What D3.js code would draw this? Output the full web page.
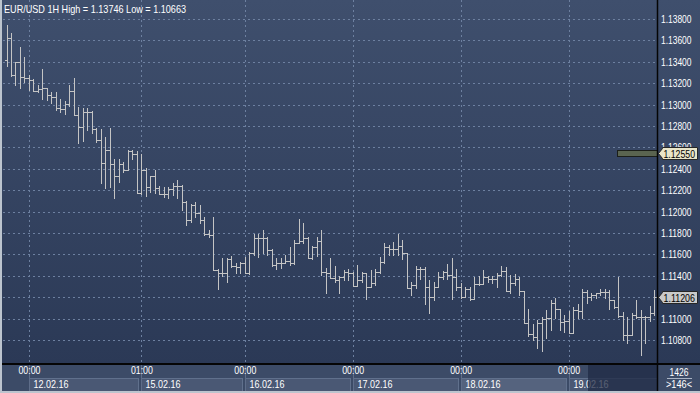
<!DOCTYPE html>
<html>
<head>
<meta charset="utf-8">
<script src="https://cdn.jsdelivr.net/npm/d3@7"></script>
<style>
  html, body { margin: 0; padding: 0; background: #2c3a56; overflow: hidden; }
  svg { display: block; font-family: "Liberation Sans", Arial, sans-serif; }
</style>
</head>
<body>
<div id="chart"></div>
<script>
// EUR/USD hourly bars, 11.02.16 19:00 .. 19.02.16
const openP = [1.13417,1.13622,1.13276,1.13398,1.13258,1.13248,1.13230,1.13127,1.13146,1.13155,
  1.13089,1.13071,1.12968,1.12959,1.13005,1.13127,1.12902,1.12790,1.12930,1.12930,
  1.12772,1.12669,1.12454,1.12575,1.12444,1.12332,1.12444,1.12388,1.12566,1.12538,
  1.12173,1.12388,1.12229,1.12332,1.12220,1.12164,1.12164,1.12211,1.12239,1.12239,
  1.12089,1.11921,1.12061,1.11986,1.11921,1.11790,1.11780,1.11453,1.11425,1.11425,
  1.11556,1.11491,1.11481,1.11519,1.11425,1.11612,1.11752,1.11752,1.11752,1.11640,
  1.11500,1.11519,1.11519,1.11537,1.11519,1.11706,1.11724,1.11752,1.11565,1.11668,
  1.11724,1.11434,1.11425,1.11378,1.11359,1.11387,1.11434,1.11425,1.11303,1.11359,
  1.11425,1.11294,1.11331,1.11434,1.11528,1.11668,1.11650,1.11650,1.11678,1.11612,
  1.11284,1.11312,1.11463,1.11463,1.11294,1.11200,1.11294,1.11387,1.11434,1.11406,
  1.11387,1.11294,1.11200,1.11275,1.11182,1.11322,1.11322,1.11387,1.11369,1.11369,
  1.11406,1.11444,1.11257,1.11331,1.11369,1.11257,1.10958,1.10855,1.10827,1.10958,
  1.10995,1.11004,1.11145,1.11089,1.10967,1.10976,1.10864,1.11079,1.11070,1.11247,
  1.11200,1.11219,1.11238,1.11247,1.11247,1.11172,1.11107,1.11023,1.10845,1.10845,
  1.11032,1.11014,1.11014,1.11014,1.11051];
const highP = [1.13746,1.13669,1.13398,1.13538,1.13445,1.13276,1.13239,1.13183,1.13333,1.13155,
  1.13117,1.13117,1.13052,1.13033,1.13183,1.13248,1.12977,1.12968,1.12968,1.12940,
  1.12781,1.12772,1.12697,1.12781,1.12491,1.12491,1.12463,1.12575,1.12575,1.12566,
  1.12538,1.12407,1.12332,1.12388,1.12239,1.12229,1.12229,1.12267,1.12295,1.12248,
  1.12098,1.12070,1.12089,1.12061,1.11949,1.11827,1.11949,1.11463,1.11565,1.11565,
  1.11584,1.11519,1.11528,1.11575,1.11621,1.11790,1.11790,1.11827,1.11762,1.11650,
  1.11565,1.11565,1.11593,1.11668,1.11734,1.11930,1.11893,1.11762,1.11678,1.11762,
  1.11827,1.11472,1.11565,1.11491,1.11397,1.11453,1.11463,1.11434,1.11500,1.11434,
  1.11425,1.11453,1.11463,1.11575,1.11706,1.11687,1.11715,1.11790,1.11734,1.11612,
  1.11341,1.11491,1.11481,1.11481,1.11359,1.11341,1.11434,1.11444,1.11509,1.11565,
  1.11463,1.11331,1.11294,1.11294,1.11387,1.11397,1.11453,1.11397,1.11397,1.11425,
  1.11491,1.11481,1.11406,1.11416,1.11387,1.11257,1.11089,1.10948,1.10986,1.11014,
  1.11079,1.11172,1.11191,1.11089,1.11032,1.11070,1.11107,1.11135,1.11275,1.11266,
  1.11238,1.11238,1.11275,1.11275,1.11266,1.11172,1.11387,1.11061,1.11014,1.11051,
  1.11172,1.11079,1.11023,1.11117,1.11266];
const lowP = [1.13361,1.13267,1.13183,1.13155,1.13211,1.13136,1.13127,1.13117,1.13052,1.13043,
  1.13015,1.12949,1.12930,1.12912,1.12987,1.12902,1.12641,1.12659,1.12762,1.12734,
  1.12650,1.12267,1.12220,1.12229,1.12126,1.12276,1.12369,1.12388,1.12491,1.12173,
  1.12164,1.12145,1.12182,1.12173,1.12164,1.12136,1.12126,1.12154,1.12126,1.12014,
  1.11874,1.11902,1.11949,1.11893,1.11780,1.11762,1.11453,1.11275,1.11397,1.11341,
  1.11481,1.11425,1.11425,1.11425,1.11416,1.11593,1.11575,1.11612,1.11593,1.11491,
  1.11463,1.11472,1.11519,1.11500,1.11509,1.11706,1.11706,1.11565,1.11556,1.11584,
  1.11406,1.11238,1.11378,1.11341,1.11238,1.11359,1.11359,1.11303,1.11303,1.11341,
  1.11182,1.11294,1.11312,1.11425,1.11519,1.11593,1.11593,1.11593,1.11556,1.11284,
  1.11219,1.11284,1.11369,1.11135,1.11051,1.11172,1.11294,1.11369,1.11369,1.11182,
  1.11266,1.11191,1.11200,1.11172,1.11182,1.11312,1.11322,1.11341,1.11331,1.11294,
  1.11397,1.11257,1.11238,1.11312,1.11219,1.10958,1.10836,1.10799,1.10724,1.10696,
  1.10817,1.10892,1.11004,1.10892,1.10873,1.10864,1.10864,1.11004,1.11004,1.11145,
  1.11172,1.11191,1.11219,1.11191,1.11089,1.11098,1.11014,1.10799,1.10771,1.10845,
  1.11004,1.10663,1.10771,1.10976,1.11032];
const closeP = [1.13622,1.13276,1.13398,1.13258,1.13248,1.13230,1.13127,1.13146,1.13155,1.13089,
  1.13071,1.12968,1.12959,1.13005,1.13127,1.12902,1.12790,1.12930,1.12930,1.12772,
  1.12669,1.12454,1.12575,1.12444,1.12332,1.12444,1.12388,1.12566,1.12538,1.12173,
  1.12388,1.12229,1.12332,1.12220,1.12164,1.12164,1.12211,1.12239,1.12239,1.12089,
  1.11921,1.12061,1.11986,1.11921,1.11790,1.11780,1.11453,1.11425,1.11425,1.11556,
  1.11491,1.11481,1.11519,1.11425,1.11612,1.11752,1.11752,1.11752,1.11640,1.11500,
  1.11519,1.11519,1.11537,1.11519,1.11706,1.11724,1.11752,1.11565,1.11668,1.11724,
  1.11434,1.11425,1.11378,1.11359,1.11387,1.11434,1.11425,1.11303,1.11359,1.11425,
  1.11294,1.11331,1.11434,1.11528,1.11668,1.11650,1.11650,1.11678,1.11612,1.11284,
  1.11312,1.11463,1.11463,1.11294,1.11200,1.11294,1.11387,1.11434,1.11406,1.11387,
  1.11294,1.11200,1.11275,1.11182,1.11322,1.11322,1.11387,1.11369,1.11369,1.11406,
  1.11444,1.11257,1.11331,1.11369,1.11257,1.10958,1.10855,1.10827,1.10958,1.10995,
  1.11004,1.11145,1.11089,1.10967,1.10976,1.10864,1.11079,1.11070,1.11247,1.11200,
  1.11219,1.11238,1.11247,1.11247,1.11172,1.11107,1.11023,1.10845,1.10845,1.11032,
  1.11014,1.11014,1.11014,1.11051,1.11206];

// time axis: bar index where each day starts, plus labels
const dayStart = [5, 30, 53, 77, 101, 125];
const hourLabels = ['00:00', '01:00', '00:00', '00:00', '00:00', '00:00'];
const dayLabels = ['12.02.16', '15.02.16', '16.02.16', '17.02.16', '18.02.16', '19.02.16'];

// price axis
const priceTicks = [1.138, 1.136, 1.134, 1.132, 1.130, 1.128, 1.126, 1.124, 1.122, 1.120, 1.118, 1.116, 1.114, 1.112, 1.110, 1.108];
const levelPrice = 1.1255;
const lastPrice = 1.11206;

const W = 700, H = 393;
const plot = { left: 3, right: 657, top: 0, bottom: 364 };

// the terminal font is narrow, squeeze text to its width
const fit = (sel, w) => sel.attr('textLength', w).attr('lengthAdjust', 'spacingAndGlyphs');

const svg = d3.select('#chart').append('svg')
  .attr('width', W).attr('height', H);

const defs = svg.append('defs');
const grad = defs.append('linearGradient').attr('id', 'bg')
  .attr('x1', 0).attr('y1', 0).attr('x2', 0).attr('y2', 1);
grad.append('stop').attr('offset', '0%').attr('stop-color', '#3f4f6d');
grad.append('stop').attr('offset', '100%').attr('stop-color', '#2b3956');
defs.append('clipPath').attr('id', 'clip').append('rect')
  .attr('x', plot.left).attr('y', plot.top)
  .attr('width', plot.right - plot.left).attr('height', plot.bottom - plot.top);

// background
svg.append('rect').attr('width', W).attr('height', plot.bottom).attr('fill', 'url(#bg)');
svg.append('rect').attr('y', plot.bottom).attr('width', W).attr('height', H - plot.bottom).attr('fill', '#3c4b67');

// scales
const x = d3.scaleLinear().domain([0, openP.length - 1]).range([6.5, 654]);
const y = d3.scaleLinear().domain([1.108, 1.138]).range([340, 19]);
const px = v => Math.round(x(v)) + 0.5;
const py = v => Math.round(y(v)) + 0.5;

// grid
const grid = svg.append('g')
  .attr('stroke', '#6d80a0').attr('stroke-width', 1)
  .attr('stroke-dasharray', '2,3').attr('shape-rendering', 'crispEdges');
grid.selectAll('.hg').data(priceTicks).enter().append('line')
  .attr('x1', plot.left).attr('x2', plot.right)
  .attr('y1', d => py(d)).attr('y2', d => py(d));
grid.selectAll('.vg').data(dayStart).enter().append('line')
  .attr('x1', d => px(d)).attr('x2', d => px(d))
  .attr('y1', plot.top).attr('y2', plot.bottom);

// OHLC bars
const bars = svg.append('g').attr('clip-path', 'url(#clip)')
  .attr('stroke', '#c4c4c4').attr('stroke-width', 1).attr('shape-rendering', 'crispEdges');
const idx = d3.range(openP.length);
bars.selectAll('.hl').data(idx).enter().append('line')
  .attr('x1', i => px(i)).attr('x2', i => px(i))
  .attr('y1', i => py(highP[i]) - 0.5).attr('y2', i => py(lowP[i]) + 0.5);
bars.selectAll('.op').data(idx).enter().append('line')
  .attr('x1', i => px(i) - 3).attr('x2', i => px(i))
  .attr('y1', i => py(openP[i])).attr('y2', i => py(openP[i]));
bars.selectAll('.cl').data(idx).enter().append('line')
  .attr('x1', i => px(i)).attr('x2', i => px(i) + 3)
  .attr('y1', i => py(closeP[i])).attr('y2', i => py(closeP[i]));

// title
svg.append('text').attr('x', 4).attr('y', 12.5)
  .attr('fill', '#ffffff').style('font-size', '11.5px')
  .text('EUR/USD 1H High = ' + d3.max(highP).toFixed(5) + ' Low = ' + d3.min(lowP).toFixed(5))
  .call(fit, 182);

// price axis labels
const yAxis = svg.append('g').attr('transform', `translate(${plot.right + 4},0)`)
  .call(d3.axisRight(y).tickValues(priceTicks).tickFormat(d3.format('.5f')).tickSize(0).tickPadding(0));
yAxis.select('.domain').remove();
yAxis.selectAll('text').attr('fill', '#ffffff').style('font-size', '11px')
  .style('font-family', '"Liberation Sans", Arial, sans-serif')
  .call(fit, 30.5);

// level bar + marker
svg.append('rect').attr('x', 617).attr('y', Math.round(y(levelPrice)) - 3)
  .attr('width', plot.right - 617).attr('height', 6)
  .attr('fill', '#5a6450').attr('stroke', '#1c1f1a').attr('stroke-width', 1)
  .attr('shape-rendering', 'crispEdges');

function marker(price, fill) {
  const cy = Math.round(y(price)) + 0.5;
  const g = svg.append('g');
  g.append('path')
    .attr('d', `M${plot.right + 1.5},${cy} L${plot.right + 5.5},${cy - 5} L${plot.right + 5.5},${cy - 6} L697.5,${cy - 6} L697.5,${cy + 6} L${plot.right + 5.5},${cy + 6} L${plot.right + 5.5},${cy + 5} Z`)
    .attr('fill', fill).attr('stroke', '#262626').attr('stroke-width', 1);
  g.append('text').attr('x', 663.5).attr('y', cy + 4)
    .attr('fill', '#000000').style('font-size', '11px')
    .text(d3.format('.5f')(price))
    .call(fit, 31.5);
}
marker(levelPrice, '#e9e5c9');
marker(lastPrice, '#c9c9c9');

// time axis
const axisArea = svg.append('g');
dayStart.forEach((s, i) => {
  const x0 = px(s);
  const x1 = i < dayStart.length - 1 ? px(dayStart[i + 1]) - 3 : plot.right;
  axisArea.append('rect').attr('x', x0).attr('y', 378.5)
    .attr('width', x1 - x0).attr('height', 13)
    .attr('fill', i === 4 ? '#55637e' : '#4a5874')
    .attr('stroke', '#60708c').attr('stroke-width', 1)
    .attr('shape-rendering', 'crispEdges');
  axisArea.append('line').attr('x1', x0).attr('x2', x0)
    .attr('y1', plot.bottom).attr('y2', 391)
    .attr('stroke', '#5e6d89').attr('shape-rendering', 'crispEdges');
  axisArea.append('text').attr('x', x0 + 4).attr('y', 387.5)
    .attr('fill', '#ffffff').style('font-size', '11px').text(dayLabels[i])
    .call(fit, 35);
});

const xAxis = svg.append('g').attr('transform', `translate(0,${plot.bottom + 2})`)
  .call(d3.axisBottom(x).tickValues(dayStart).tickFormat((d, i) => hourLabels[i]).tickSize(0).tickPadding(0.5));
xAxis.select('.domain').remove();
xAxis.selectAll('text').attr('fill', '#ffffff').style('font-size', '11px')
  .style('font-family', '"Liberation Sans", Arial, sans-serif')
  .call(fit, 22);

// scrolled-out shade over the last day label
svg.append('rect').attr('x', 588).attr('y', plot.bottom + 1)
  .attr('width', plot.right - 588).attr('height', 391 - plot.bottom - 1)
  .attr('fill', '#1f2a44').attr('opacity', 0.75);

// bottom right counters
const info = svg.append('g').attr('fill', '#ffffff').style('font-size', '11px').attr('text-anchor', 'middle');
info.append('text').attr('x', 679).attr('y', 375.5).text('1426').call(fit, 19);
info.append('line').attr('x1', 667).attr('x2', 692).attr('y1', 378.5).attr('y2', 378.5)
  .attr('stroke', '#aab4c4');
info.append('text').attr('x', 679).attr('y', 388).text('>146<').call(fit, 26);

// frame lines
svg.append('line').attr('x1', 0).attr('x2', W).attr('y1', plot.bottom).attr('y2', plot.bottom)
  .attr('stroke', '#050505').attr('stroke-width', 2);
svg.append('line').attr('x1', plot.right + 0.5).attr('x2', plot.right + 0.5).attr('y1', 0).attr('y2', H)
  .attr('stroke', '#050505').attr('stroke-width', 1.5);
svg.append('rect').attr('x', 0).attr('y', 0).attr('width', 2).attr('height', H).attr('fill', '#bcc4ce');
svg.append('rect').attr('x', 0).attr('y', 391).attr('width', W).attr('height', 2).attr('fill', '#bcc4ce');
</script>
</body>
</html>
